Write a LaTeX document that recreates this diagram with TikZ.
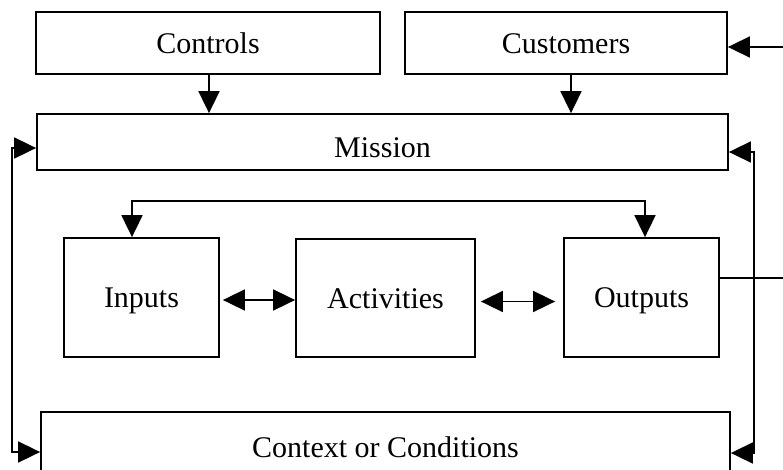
\documentclass[tikz,border=0pt]{standalone}
\usepackage{fontspec}
\setmainfont{Liberation Serif}
\usetikzlibrary{arrows.meta,positioning}

\begin{document}
\begin{tikzpicture}[>={Triangle[length=22pt,width=21pt]},x=1pt,y=-1pt]
    \tikzstyle{block} = [shape=rectangle, draw=black, line width=1.8pt, inner sep=0, align=center, text height=20pt, text depth=0pt, font=\fontsize{30}{36}\selectfont]
    \tikzstyle{link} = [black, line width=1.8pt]
    \useasboundingbox (0,0) rectangle (783,469);

    % top row
    \node[block, minimum width=344, minimum height=62] (controls) at (208,43) {Controls};
    \node[block, minimum width=322, minimum height=62] (customers) at (566,43) {Customers};
    \node[block, minimum width=691, minimum height=56, text height=30pt] (mission) at (382.5,142) {Mission};

    % middle row
    \node[block, minimum width=155, minimum height=119] (inputs) at (141.5,297.5) {Inputs};
    \node[block, minimum width=179, minimum height=118] (activities) at (385.5,298) {Activities};
    \node[block, minimum width=155, minimum height=119] (outputs) at (641.5,297.5) {Outputs};

    % bottom box runs off the page
    \node[block, minimum width=689, minimum height=70] (context) at (385.5,447) {Context or Conditions};

    \coordinate (leftbus) at (12,0);
    \coordinate (rightbus) at (754,0);
    \coordinate (topbus) at (0,201);
    \coordinate (custin) at (783,47);
    \coordinate (outend) at (783,278);

    \draw[link,->] ([xshift=1pt]controls.south) -- ([xshift=1pt]controls.south |- mission.north);
    \draw[link,->] ([xshift=5pt]customers.south) -- ([xshift=5pt]customers.south |- mission.north);
    \draw[link,->] (custin) -- (custin -| customers.east);

    \draw[link,<->] ([yshift=-6pt]mission.west) -- ([yshift=-6pt]mission.west -| leftbus)
        -- ([yshift=-5pt]context.west -| leftbus) -- ([yshift=-5pt]context.west);
    \draw[link,<->] ([yshift=-10pt]mission.east) -- ([yshift=-10pt]mission.east -| rightbus)
        -- ([yshift=-6pt]context.east -| rightbus) -- ([yshift=-6pt]context.east);

    \draw[link,<->] ([xshift=-9.5pt]inputs.north) |- ([xshift=3.5pt]outputs.north |- topbus)
        -- ([xshift=3.5pt]outputs.north);
    \draw[link,<->] ([xshift=3pt,yshift=-2.5pt]inputs.east) -- ([yshift=-2.5pt]inputs.east -| activities.west);
    \draw[link,<->] ([xshift=5pt,yshift=-3.5pt]activities.east) -- ([xshift=-8pt,yshift=-3.5pt]activities.east -| outputs.west);

    \draw[link] ([yshift=19.5pt]outputs.east) -- (outend);
\end{tikzpicture}
\end{document}
